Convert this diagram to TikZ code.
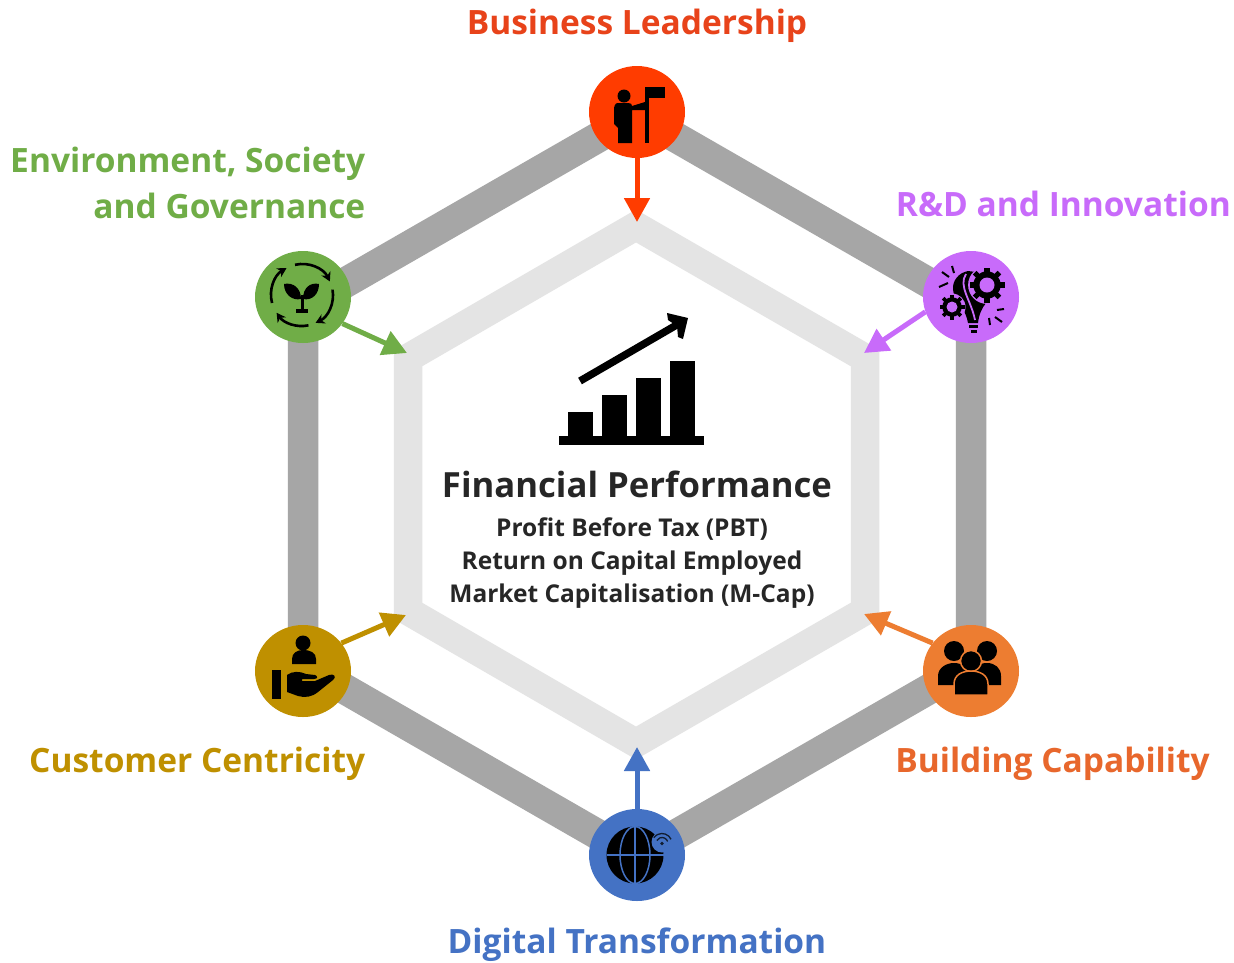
\documentclass[tikz,border=0pt]{standalone}
\usepackage{fontspec}
\setmainfont{Open Sans}
\usetikzlibrary{shapes.geometric,arrows.meta}
\definecolor{cred}{HTML}{FF3C00}
\definecolor{tred}{HTML}{E8431A}
\definecolor{cgreen}{HTML}{70AD47}
\definecolor{cpurple}{HTML}{C86BFA}
\definecolor{cgold}{HTML}{BF9000}
\definecolor{corange}{HTML}{ED7D31}
\definecolor{torange}{HTML}{E8672C}
\definecolor{cblue}{HTML}{4472C4}
\definecolor{ring}{HTML}{A6A6A6}
\definecolor{inring}{HTML}{E4E4E4}
\definecolor{ink}{HTML}{262626}
\tikzset{
  x=1pt,y=-1pt,
  hub/.style={shape=ellipse,minimum width=96pt,minimum height=92pt,inner sep=0pt,fill=#1},
  feed/.style={draw=#1,line width=5pt,-{Triangle[length=24pt,width=25pt]},shorten >=0pt},
  lab/.style={font=\fontsize{33.5}{46}\selectfont\bfseries,text=#1,inner sep=0pt},
  ico/.style={fill=black,draw=none},
  cyc/.style={draw=black,line width=2.6pt,-{Stealth[length=9pt,width=10pt]}}
}
\newcommand{\gearicon}[4]{% x, y, outer radius, hole radius
  \fill[cpurple] (#1,#2) circle[radius=#3*1.08pt];
  \foreach \a in {0,45,...,315}{
    \draw[black,line width=#3*0.3pt] (#1,#2) ++(\a:#3*0.7pt) -- ++(\a:#3*0.3pt);
  }
  \fill[black] (#1,#2) circle[radius=#3*0.78pt];
  \fill[cpurple] (#1,#2) circle[radius=#4pt];
}
\begin{document}
\begin{tikzpicture}
\useasboundingbox (0,0) rectangle (1234,962);
\fill[white] (0,0) rectangle (1234,962);
% ring anchors
\coordinate (ot) at (637,115);
\coordinate (our) at (971,307);
\coordinate (olr) at (971,665);
\coordinate (ob) at (637,857);
\coordinate (oll) at (303,665);
\coordinate (oul) at (303,307);
\coordinate (it) at (636,226);
\coordinate (iur) at (865,358);
\coordinate (ilr) at (865,611);
\coordinate (ib) at (636,743);
\coordinate (ill) at (408,611);
\coordinate (iul) at (408,358);
\draw[ring,line width=30.5pt,miter limit=5] (ot)--(our)--(olr)--(ob)--(oll)--(oul)--cycle;
\draw[inring,line width=28.5pt,miter limit=5] (it)--(iur)--(ilr)--(ib)--(ill)--(iul)--cycle;
% hubs
\node[hub=cred] (lead) at (637,112) {};
\node[hub=cpurple] (rnd) at (971,297) {};
\node[hub=corange] (cap) at (971,671) {};
\node[hub=cblue] (dig) at (637,855) {};
\node[hub=cgold] (cust) at (303,671) {};
\node[hub=cgreen] (esg) at (303,297) {};
% feeds
\coordinate (tl) at (637,222);
\coordinate (tr) at (864,353);
\coordinate (tc) at (864,614);
\coordinate (td) at (637,747);
\coordinate (tg) at (406,615);
\coordinate (te) at (407,353);
\draw[feed=cred] (lead.south) -- (tl);
\draw[feed=cpurple] (rnd.198) -- (tr);
\draw[feed=corange] (cap.144) -- (tc);
\draw[feed=cblue] (dig.north) -- (td);
\draw[feed=cgold] (cust.36) -- (tg);
\draw[feed=cgreen] (esg.-34) -- (te);
% labels
\node[lab=tred] (l1) at (637,26) {Business Leadership};
\node[lab=cpurple,anchor=east] (l2) at (1231,204) {R\&D and Innovation};
\node[lab=torange,anchor=east] (l3) at (1210,764) {Building Capability};
\node[lab=cblue] (l4) at (637,945) {Digital Transformation};
\node[lab=cgold,anchor=east] (l5) at (365.5,764) {Customer Centricity};
\node[lab=cgreen,anchor=east,align=right] (l6) at (365.5,183) {Environment, Society\\and Governance};
% centre text
\node[font=\fontsize{34.7}{40}\selectfont\bfseries,text=ink,inner sep=0pt] (ttl) at (637,484) {Financial Performance};
\node[font=\fontsize{24.5}{33}\selectfont\bfseries,text=ink,inner sep=0pt,align=center] (sub) at (632,563) {Profit Before Tax (PBT)\\Return on Capital Employed\\Market Capitalisation (M-Cap)};
% chart icon
\fill[black] (559,436) rectangle (704,445);
\fill[black] (568,412) rectangle (593,437);
\fill[black] (602,395) rectangle (627,437);
\fill[black] (636,378) rectangle (661,437);
\fill[black] (670,361) rectangle (695,437);
\draw[black,line width=7.5pt] (580,381) -- (680,323);
\fill[black] (667,313) -- (688,318) -- (683,339) -- (678,337) -- (677,326) -- (668,320) -- cycle;
% flag person
\fill[ico] (624,96) circle[radius=6.5pt];
\fill[ico] (618,103) -- (628,103) .. controls (631,103) and (632,104) .. (632,106) -- (645,102) -- (645,110) -- (632,110) -- (632,143) -- (618,143) -- (618,128) -- (614,124) -- (614,110) .. controls (614,106) and (615,103) .. (618,103) -- cycle;
\fill[ico] (645,87) rectangle (648.5,143);
\fill[ico] (646,87) rectangle (665,98);
% innovation icon
\fill[ico] (968,271) .. controls (958,273) and (952.5,281) .. (953,289) .. controls (953,299) and (965,306) .. (968,323) -- (978,323) .. controls (979,314) and (982,308) .. (986,303) -- (974,290) -- (976,272) -- cycle;
\draw[cpurple,line width=1.8pt] (966,274) .. controls (958,286) and (971,300) .. (975,320);
\gearicon{987}{285}{17.5}{7.5}
\gearicon{952}{307}{12.5}{5.5}
\fill[ico] (969,325) rectangle (978,328);
\fill[ico] (971,330) rectangle (977,332.5);
\foreach \a/\b/\c/\d in {942/272/949/277, 952/266/954/273, 939/287/948/283, 997/310/1004/309, 995/317/1002/322, 989/318/990/325}{
  \draw[black,line width=2pt] (\a,\b) -- (\c,\d);
}
% leaf icon
\coordinate (lc) at (302,295);
\draw[cyc] (lc) ++(103:31pt) arc[start angle=103,end angle=26,radius=31pt];
\draw[cyc] (lc) ++(10:31pt) arc[start angle=10,end angle=-64,radius=31pt];
\draw[cyc] (lc) ++(-78:31pt) arc[start angle=-78,end angle=-145,radius=31pt];
\draw[cyc] (lc) ++(-165:31pt) arc[start angle=-165,end angle=-240,radius=31pt];
\fill[ico] (301,299) .. controls (292,301) and (284,294) .. (284,284) .. controls (293,282) and (301,288) .. (301,299) -- cycle;
\fill[ico] (303,299) .. controls (312,301) and (319,294) .. (319,284) .. controls (310,282) and (303,288) .. (303,299) -- cycle;
\fill[ico] (300.5,295) rectangle (303.5,311);
\fill[ico] (296,309) rectangle (308,312.5);
% customer icon
\fill[ico] (303,643) circle[radius=7.5pt];
\fill[ico] (292,664) -- (292,659) .. controls (292,653) and (297,650) .. (303,650) .. controls (311,650) and (316,653) .. (316,659) -- (316,664) -- cycle;
\fill[ico] (272,670) rectangle (281,699);
\fill[ico] (287,675) .. controls (292,671) and (300,671) .. (306,674) -- (315,675) .. controls (318,676) and (318,679) .. (314,679) -- (302,679) -- (302,681) -- (315,681) -- (329,675) .. controls (334,673) and (337,677) .. (333,680) -- (318,692) .. controls (312,697) and (305,698) .. (298,696) -- (287,692) -- cycle;
% people icon
\fill[ico] (954,651) circle[radius=10pt];
\fill[ico] (987,651) circle[radius=10pt];
\fill[ico] (938,685) -- (938,676) .. controls (938,668) and (946,663) .. (954,663) .. controls (962,663) and (970,668) .. (970,676) -- (970,685) -- cycle;
\fill[ico] (971,685) -- (971,676) .. controls (971,668) and (979,663) .. (987,663) .. controls (995,663) and (1001,668) .. (1001,676) -- (1001,685) -- cycle;
\draw[corange,line width=1.5pt,fill=black] (971,661) circle[radius=10.5pt];
\draw[corange,line width=1.5pt,fill=black] (954,695) -- (954,684) .. controls (954,675) and (962,671) .. (971,671) .. controls (980,671) and (988,675) .. (988,684) -- (988,695) -- cycle;
% globe icon
\fill[ico] (635,855) circle[radius=28.5pt];
\fill[cblue] (662,842) circle[radius=10.5pt];
\draw[cblue,line width=1.5pt] (635,826.5) -- (635,883.5);
\draw[cblue,line width=1.5pt] (606.5,855) -- (663.5,855);
\draw[cblue,line width=1.5pt] (635,855) ellipse[x radius=15pt,y radius=28.5pt];
\fill[black!75!cblue] (662,843.5) circle[radius=1.8pt];
\draw[black!75!cblue,line width=1.3pt] (662,843.5) ++(20:6pt) arc[start angle=20,end angle=150,radius=6pt];
\draw[black!75!cblue,line width=1.3pt] (662,843.5) ++(25:10pt) arc[start angle=25,end angle=145,radius=10pt];
\end{tikzpicture}
\end{document}
